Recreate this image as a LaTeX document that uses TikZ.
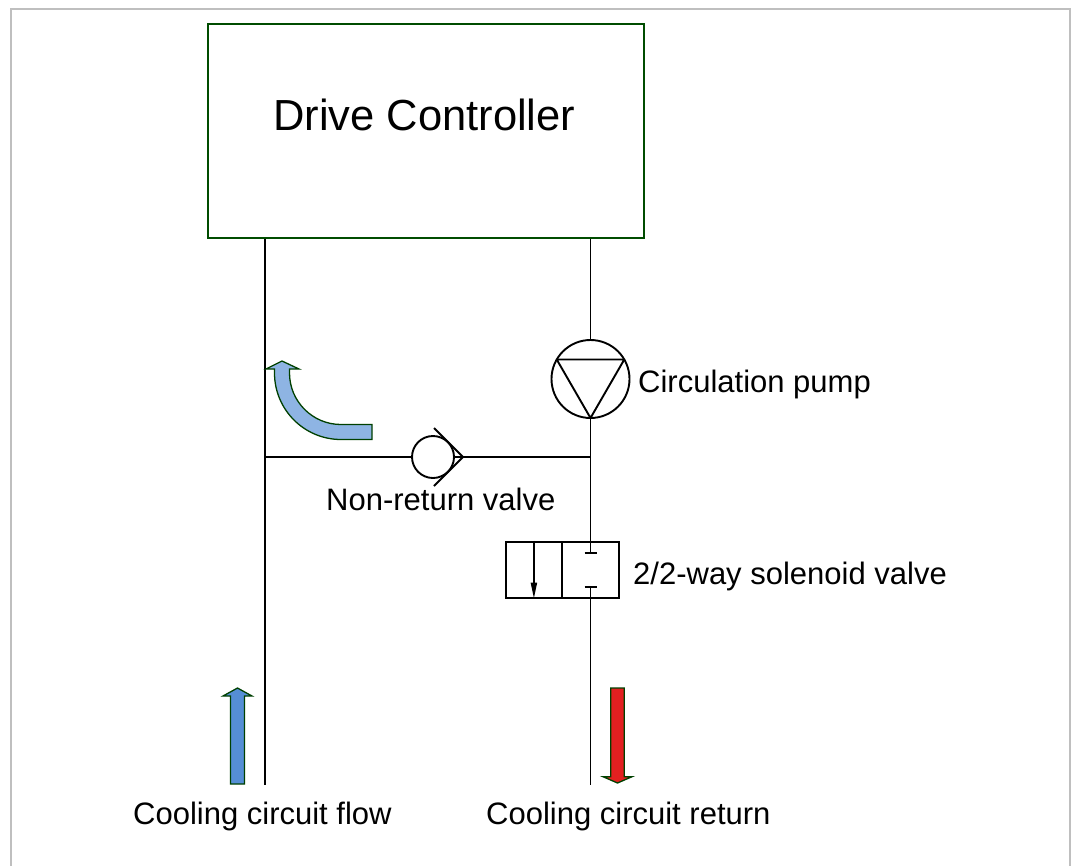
\documentclass[tikz,border=0pt]{standalone}
\usepackage{fontspec}
\setmainfont{Liberation Sans}
\usetikzlibrary{positioning,arrows.meta}

\begin{document}
\begin{tikzpicture}[x=1pt,y=-1pt]
  \tikzset{
    pipe/.style={line width=1.9pt, black},
    frame/.style={line width=2pt, black!25},
    unit/.style={draw=green!30!black, line width=1.5pt, minimum width=436pt, minimum height=214pt, inner sep=0pt},
    comp/.style={draw=black, line width=1.9pt, inner sep=0pt},
    lbl/.style={inner sep=0pt, anchor=base west, font=\fontsize{31}{36}\selectfont},
    flow/.style={draw=green!25!black, line width=1.3pt}
  }
  \useasboundingbox (0,0) rectangle (1073,865);

  % outer frame
  \draw[frame] (11,870) -- (11,9) -- (1070,9) -- (1070,870);

  % — Drive controller —
  \node[unit] (dc) at (426,131) {};
  \node[lbl, font=\fontsize{43.5}{50}\selectfont] (dclbl) at (273,130) {Drive Controller};

  % — components —
  \node[comp, circle, minimum size=78pt] (pump) at (590.5,379) {};
  \node[comp, circle, minimum size=42pt] (cv) at (433,457) {};
  \node[comp, rectangle, minimum width=56.6pt, minimum height=56pt] (sv2) at (590.5,569.7) {};
  \node[comp, rectangle, minimum width=56.6pt, minimum height=56pt] (sv1) at (533.9,569.7) {};

  % pipe ends and junctions
  \coordinate (jL) at (265,457);
  \coordinate (jR) at (590.5,457);
  \coordinate (fl) at (265,785);
  \coordinate (rt) at (590.5,785);
  \coordinate (tA) at (590.5,553.3);
  \coordinate (tB) at (590.5,586.7);

  % — pipes —
  \draw[pipe] (dc.south -| jL) -- (fl);
  \draw[pipe] (dc.south -| pump) -- (pump.north);
  \draw[pipe] (pump.south) -- (jR) -- (tA);
  \draw[pipe] (tB) -- (rt);
  \draw[pipe] (jL) -- (cv.west);
  \draw[pipe] (cv.east) -- (jR);

  % pump triangle
  \draw[pipe, line join=round] (pump.center) +(210:39) -- +(330:39) -- +(90:39) -- cycle;

  % non-return valve seat
  \draw[pipe] (cv) ++(1,-29) -- ++(29,29) -- ++(-29,29);

  % solenoid valve symbols
  \draw[pipe, -{Triangle[length=16pt,width=6pt]}] (sv1.north) -- (sv1.south);
  \draw[pipe] (tA) ++(-6,0) -- ++(12,0);
  \draw[pipe] (tB) ++(-6,0) -- ++(12,0);

  % — flow arrows —
  \filldraw[flow, fill={rgb,255:red,142;green,180;blue,227}]
    (372,424.5) -- (341,424.5) arc (90:180:51.5) -- (289.5,369) -- (299,369) -- (282,361)
    -- (266,369) -- (274.5,369) -- (274.5,373) arc (180:90:66.5) -- (372,439.5) -- cycle;
  \filldraw[flow, fill={rgb,255:red,85;green,142;blue,213}]
    (230.5,784) -- (230.5,696) -- (223,696) -- (237.5,688) -- (252,696) -- (244.5,696) -- (244.5,784) -- cycle;
  \filldraw[flow, fill={rgb,255:red,226;green,32;blue,32}]
    (610.7,688) -- (624.3,688) -- (624.3,776.7) -- (632,776.7) -- (617.5,783) -- (603,776.7) -- (610.7,776.7) -- cycle;

  % — labels —
  \node[lbl] (pumplbl) at (638,392) {Circulation pump};
  \node[lbl] (cvlbl) at (326,510.7) {Non-return valve};
  \node[lbl] (svlbl) at (633,584) {2/2-way solenoid valve};
  \node[lbl] (fllbl) at (133,824.3) {Cooling circuit flow};
  \node[lbl] (rtlbl) at (486,824.3) {Cooling circuit return};
\end{tikzpicture}
\end{document}
